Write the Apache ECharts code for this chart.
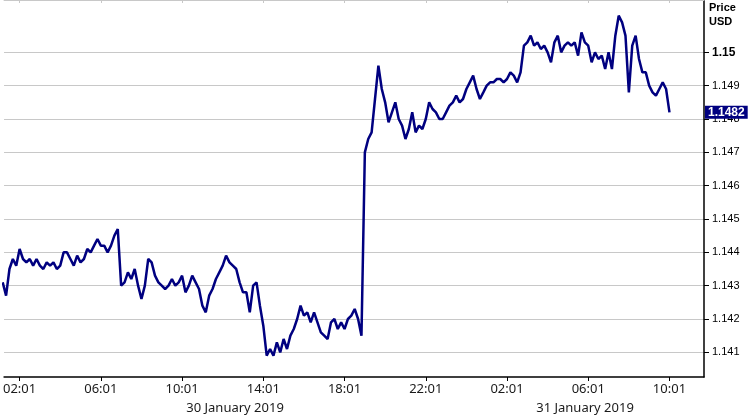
<!DOCTYPE html>
<html><head><meta charset="utf-8">
<script src="https://cdn.jsdelivr.net/npm/echarts@6/dist/echarts.min.js"></script>
<style>html,body{margin:0;padding:0;background:#fff}#c{width:750px;height:418px}</style>
</head><body><div id="c"></div>
<script>
// minutes since 30 January 2019 00:00
const startMinute = 71;
const stepMinutes = 10;
const prices = [
1.1431,1.1427,1.1435,1.1438,1.1436,1.1441,1.1438,1.1437,1.1438,1.1436,
1.1438,1.1436,1.1435,1.1437,1.1436,1.1437,1.1435,1.1436,1.1440,1.1440,
1.1438,1.1436,1.1439,1.1437,1.1438,1.1441,1.1440,1.1442,1.1444,1.1442,
1.1442,1.1440,1.1442,1.1445,1.1447,1.1430,1.1431,1.1434,1.1432,1.1435,
1.1430,1.1426,1.1430,1.1438,1.1437,1.1433,1.1431,1.1430,1.1429,1.1430,
1.1432,1.1430,1.1431,1.1433,1.1428,1.1430,1.1433,1.1431,1.1429,1.1424,
1.1422,1.1427,1.1429,1.1432,1.1434,1.1436,1.1439,1.1437,1.1436,1.1435,
1.1431,1.1428,1.1428,1.1422,1.1430,1.1431,1.1424,1.1418,1.1409,1.1411,
1.1409,1.1413,1.1410,1.1414,1.1411,1.1415,1.1417,1.1420,1.1424,1.1421,
1.1422,1.1419,1.1422,1.1419,1.1416,1.1415,1.1414,1.1419,1.1420,1.1417,
1.1419,1.1417,1.1420,1.1421,1.1423,1.1420,1.1415,1.1470,1.1474,1.1476,
1.1486,1.1496,1.1489,1.1485,1.1479,1.1482,1.1485,1.1480,1.1478,1.1474,
1.1477,1.1482,1.1476,1.1478,1.1477,1.1480,1.1485,1.1483,1.1482,1.1480,
1.1480,1.1482,1.1484,1.1485,1.1487,1.1485,1.1486,1.1489,1.1491,1.1493,
1.1489,1.1486,1.1488,1.1490,1.1491,1.1491,1.1492,1.1492,1.1491,1.1492,
1.1494,1.1493,1.1491,1.1494,1.1502,1.1503,1.1505,1.1502,1.1503,1.1501,
1.1502,1.1500,1.1497,1.1503,1.1505,1.1500,1.1502,1.1503,1.1502,1.1503,
1.1499,1.1506,1.1503,1.1502,1.1497,1.1500,1.1498,1.1499,1.1495,1.1500,
1.1495,1.1505,1.1511,1.1509,1.1505,1.1488,1.1502,1.1505,1.1498,1.1494,
1.1494,1.1490,1.1488,1.1487,1.1489,1.1491,1.1489,1.1482
];
const lastPrice = 1.1482;
const tickMinutes = [121, 361, 601, 841, 1081, 1321, 1561, 1801, 2041];
const tickLabels = ['02:01','06:01','10:01','14:01','18:01','22:01','02:01','06:01','10:01'];
const dateLabels = ['30 January 2019', '31 January 2019'];
const dayStarts = [0, 1440, 2880];
const yTicks = [1.141,1.142,1.143,1.144,1.145,1.146,1.147,1.148,1.149,1.15];
const yTickLabels = ['1.141','1.142','1.143','1.144','1.145','1.146','1.147','1.148','1.149','1.15'];
const xMin = 75, xMax = 2143;
const yMin = 1.14026, yMax = 1.15157;

const datePos = dateLabels.map((d, i) => (Math.max(xMin, dayStarts[i]) + Math.min(xMax, dayStarts[i + 1])) / 2);
const seriesData = prices.map((p, i) => [startMinute + i * stepMinutes, p]);

const chart = echarts.init(document.getElementById('c'), null, {renderer: 'canvas'});
chart.setOption({
  animation: false,
  backgroundColor: '#fff',
  title: {
    text: 'Price\nUSD', left: 709, top: 1, padding: 0,
    textStyle: {fontFamily: 'Liberation Sans', fontSize: 11, fontWeight: 'bold', color: '#000', lineHeight: 14}
  },
  grid: {left: 0, right: 46, top: 0, bottom: 41, containLabel: false},
  xAxis: [
    {
      type: 'value', min: xMin, max: xMax, position: 'bottom',
      axisLine: {show: true, onZero: false, lineStyle: {color: '#000', width: 1.5}},
      axisTick: {show: true, customValues: tickMinutes, length: 4, lineStyle: {color: '#000'}},
      axisLabel: {
        customValues: tickMinutes, margin: 6, fontFamily: 'Noto Sans', fontSize: 13, color: '#1a1a1a',
        formatter: v => tickLabels[tickMinutes.indexOf(v)] || ''
      },
      splitLine: {show: false}
    },
    {
      type: 'value', min: xMin, max: xMax, position: 'bottom',
      axisLine: {show: false, onZero: false}, axisTick: {show: false},
      axisLabel: {
        customValues: datePos, margin: 25, fontFamily: 'Noto Sans', fontSize: 13, color: '#1a1a1a',
        formatter: v => dateLabels[datePos.indexOf(v)] || ''
      },
      splitLine: {show: false}
    },
    {
      type: 'value', min: xMin, max: xMax, position: 'top',
      axisLine: {show: true, onZero: false, lineStyle: {color: '#c8c8c8', width: 1}},
      axisTick: {show: true, inside: true, customValues: tickMinutes, length: 3, lineStyle: {color: '#c8c8c8'}},
      axisLabel: {show: false},
      splitLine: {show: false}
    }
  ],
  yAxis: {
    type: 'value', position: 'right', min: yMin, max: yMax, scale: true,
    axisLine: {show: true, onZero: false, lineStyle: {color: '#000', width: 1.5}},
    axisTick: {show: true, customValues: yTicks, length: 5, lineStyle: {color: '#000'}},
    axisLabel: {
      customValues: yTicks, margin: 8, fontFamily: 'Liberation Sans', fontSize: 11, color: '#000',
      formatter: v => {
        const i = yTicks.findIndex(t => Math.abs(t - v) < 1e-7);
        if (i < 0) return '';
        return i === yTicks.length - 1 ? '{b|' + yTickLabels[i] + '}' : yTickLabels[i];
      },
      rich: {b: {fontFamily: 'Liberation Sans', fontSize: 12, fontWeight: 'bold', color: '#000'}}
    },
    splitLine: {show: true, lineStyle: {color: '#c8c8c8', width: 1}}
  },
  series: [{
    type: 'line', xAxisIndex: 0, yAxisIndex: 0, clip: false,
    data: seriesData, showSymbol: false, symbol: 'none',
    lineStyle: {color: '#000080', width: 2.5}, itemStyle: {color: '#000080'},
    markLine: {
      silent: true, symbol: ['none', 'none'], animation: false, precision: 4,
      data: [{yAxis: lastPrice}],
      lineStyle: {color: 'rgba(0,0,0,0)', width: 1, type: 'solid'},
      label: {
        show: true, position: 'end', distance: 1, formatter: () => lastPrice.toFixed(4),
        backgroundColor: '#000080', color: '#ffffff', fontWeight: 'bold', fontSize: 12,
        fontFamily: 'Liberation Sans', padding: [1, 3, 0, 3]
      }
    }
  }]
});
</script>
</body></html>
